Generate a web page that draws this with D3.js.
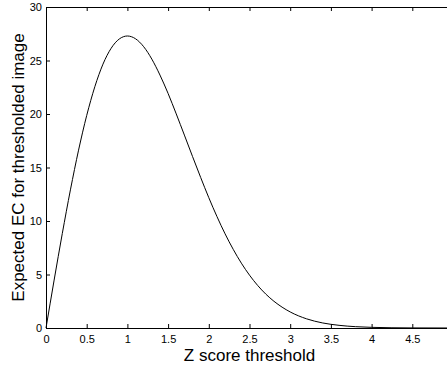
<!DOCTYPE html>
<html>
<head>
<meta charset="utf-8">
<script src="https://cdn.jsdelivr.net/npm/d3@7"></script>
<style>
body { margin: 0; background: #fff; overflow: hidden; }
svg { display: block; font-family: "Liberation Sans", Arial, sans-serif; }
</style>
</head>
<body>
<svg width="447" height="370"></svg>
<script>
var zValues = [0, 0.1, 0.2, 0.3, 0.4, 0.5, 0.6, 0.7, 0.8, 0.9, 1.0, 1.1, 1.2, 1.3, 1.4, 1.5, 1.6, 1.7, 1.8, 1.9,
               2.0, 2.1, 2.2, 2.3, 2.4, 2.5, 2.6, 2.7, 2.8, 2.9, 3.0, 3.2, 3.4, 3.6, 3.8, 4.0, 4.5, 5.0]
var ecValues = [0, 4.48, 8.82, 12.91, 16.62, 19.86, 22.55, 24.66, 26.14, 27.01, 27.29, 27.03, 26.29, 25.13, 23.64, 21.92, 20.01, 18.03, 16.03, 14.07,
                12.18, 10.42, 8.80, 7.35, 6.06, 4.94, 3.98, 3.17, 2.50, 1.95, 1.50, 0.86, 0.47, 0.25, 0.125, 0.06, 0.008, 0]
var xTicks = [0, 0.5, 1, 1.5, 2, 2.5, 3, 3.5, 4, 4.5]
var yTicks = [0, 5, 10, 15, 20, 25, 30]

var svg = d3.select('svg'),
    plotLeft = 46, plotRight = 453, plotTop = 7, plotBottom = 328

var x = d3.scaleLinear().domain([0, 5]).range([plotLeft, plotRight])
var y = d3.scaleLinear().domain([0, 30]).range([plotBottom, plotTop])

var data = zValues.map((z, i) => [z, ecValues[i]])

var line = d3.line()
    .x(d => x(d[0]))
    .y(d => y(d[1]))
    .curve(d3.curveMonotoneX)

svg.append('path')
    .datum(data)
    .attr('d', line)
    .attr('fill', 'none')
    .attr('stroke', '#000')
    .attr('stroke-width', 1)

// bottom axis, ticks point inward
var xAxis = svg.append('g')
    .attr('transform', `translate(0,${plotBottom})`)
    .call(d3.axisBottom(x).tickValues(xTicks).tickSizeInner(-4).tickSizeOuter(0).tickPadding(7).tickFormat(d3.format('')))
xAxis.selectAll('text').attr('font-size', 11).attr('fill', '#000')

// top axis, no labels
svg.append('g')
    .attr('transform', `translate(0,${plotTop})`)
    .call(d3.axisTop(x).tickValues(xTicks).tickSizeInner(-4).tickSizeOuter(0).tickFormat(''))

// left axis
var yAxis = svg.append('g')
    .attr('transform', `translate(${plotLeft},0)`)
    .call(d3.axisLeft(y).tickValues(yTicks).tickSizeInner(-4).tickSizeOuter(0).tickPadding(4))
yAxis.selectAll('text').attr('font-size', 11).attr('fill', '#000')

svg.append('text')
    .attr('x', (plotLeft + plotRight) / 2)
    .attr('y', 361)
    .attr('text-anchor', 'middle')
    .attr('font-size', 17)
    .text('Z score threshold')

svg.append('text')
    .attr('transform', `translate(24,${(plotTop + plotBottom) / 2}) rotate(-90)`)
    .attr('text-anchor', 'middle')
    .attr('font-size', 17)
    .text('Expected EC for thresholded image')
</script>
</body>
</html>
